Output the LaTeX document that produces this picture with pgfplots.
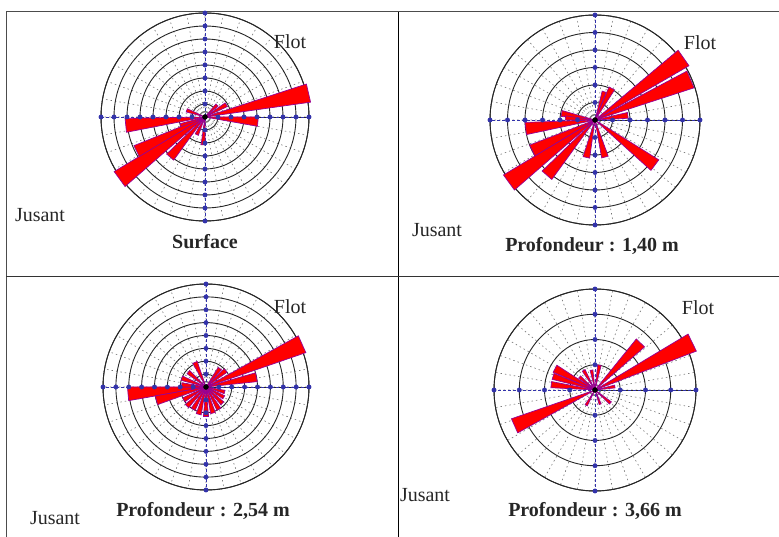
\documentclass[border=0pt]{standalone}
\usepackage{pgfplots}
\pgfplotsset{compat=1.18}
\usepgfplotslibrary{polar}
\usepackage{fontspec}
\setmainfont{Liberation Serif}
\definecolor{wedgered}{RGB}{255,0,0}
\definecolor{wedgeline}{RGB}{150,0,150}
\definecolor{dotblue}{RGB}{50,50,170}
\pgfplotsset{
  rose/.style={
    width=#1, height=#1, scale only axis,
    ymin=0, clip=false,
    xtick={0,10,...,350}, xticklabels={}, yticklabels={},
    major tick length=0pt,
    xmajorgrids, ymajorgrids,
    x grid style={black!55, dash pattern=on 1.5pt off 3pt, line width=0.6pt},
    y grid style={black!85, line width=0.9pt},
    axis line style={black!85, line width=0.9pt},
    anchor=center,
  },
  wedge/.style={fill=wedgered, draw=wedgeline, line width=0.7pt},
  axdots/.style={only marks, mark=*, mark size=2.2pt, dotblue},
  axline/.style={dotblue, dash pattern=on 3pt off 2pt, line width=0.7pt},
}
\begin{document}
\begin{tikzpicture}[x=1pt,y=1pt]
\useasboundingbox (0,0) rectangle (779,537);
% frame
\draw[black!70, line width=1pt] (6,0) -- (6,525) -- (779,525);
\draw[black, line width=0.8pt] (398,0) -- (398,525);
\draw[black!80, line width=0.8pt] (6,261) -- (779,261);

% Panel 1 : Surface
\begin{polaraxis}[rose=208pt, at={(205pt,420pt)}, ymax=8, ytick={1,...,8}]
\addplot[axline] coordinates {(0,8) (180,8)};
\addplot[axline] coordinates {(90,8) (270,8)};
\addplot[axdots] coordinates {(0,1)(0,2)(0,3)(0,4)(0,5)(0,6)(0,7)(0,8)
 (90,1)(90,2)(90,3)(90,4)(90,5)(90,6)(90,7)(90,8)
 (180,1)(180,2)(180,3)(180,4)(180,5)(180,6)(180,7)(180,8)
 (270,1)(270,2)(270,3)(270,4)(270,5)(270,6)(270,7)(270,8)};
\addplot[wedge] coordinates {(0,0) (8,8.2) (18,8.2)} --cycle;
\addplot[wedge] coordinates {(0,0) (-10,4.1) (0,4.1)} --cycle;
\addplot[wedge] coordinates {(0,0) (25,1.9) (35,1.9)} --cycle;
\addplot[wedge] coordinates {(0,0) (40,1.3) (50,1.3)} --cycle;
\addplot[wedge] coordinates {(0,0) (155,1.5) (165,1.5)} --cycle;
\addplot[wedge] coordinates {(0,0) (181,6.15) (191,6.15)} --cycle;
\addplot[wedge] coordinates {(0,0) (195,2.0) (205,2.0)} --cycle;
\addplot[wedge] coordinates {(0,0) (202,5.9) (212,5.9)} --cycle;
\addplot[wedge] coordinates {(0,0) (211,8.15) (221,8.15)} --cycle;
\addplot[wedge] coordinates {(0,0) (224,4.1) (234,4.1)} --cycle;
\addplot[wedge] coordinates {(0,0) (240,1.5) (250,1.5)} --cycle;
\addplot[wedge] coordinates {(0,0) (262,2.15) (270,2.15)} --cycle;
\addplot[only marks, mark=*, mark size=2.5pt, black] coordinates {(0,0)};
\end{polaraxis}

% Panel 2 : 1,40 m
\begin{polaraxis}[rose=210pt, at={(595pt,417pt)}, ymax=6, ytick={1,...,6}]
\addplot[axline] coordinates {(0,6) (180,6)};
\addplot[axline] coordinates {(90,6) (270,6)};
\addplot[axdots] coordinates {(0,1)(0,2)(0,3)(0,4)(0,5)(0,6)
 (90,1)(90,2)(90,3)(90,4)(90,5)(90,6)
 (180,1)(180,2)(180,3)(180,4)(180,5)(180,6)
 (270,1)(270,2)(270,3)(270,4)(270,5)(270,6)};
\addplot[wedge] coordinates {(0,0) (30,6.2) (40,6.2)} --cycle;
\addplot[wedge] coordinates {(0,0) (18,5.95) (28,5.95)} --cycle;
\addplot[wedge] coordinates {(0,0) (3,1.9) (13,1.9)} --cycle;
\addplot[wedge] coordinates {(0,0) (57,2.05) (67,2.05)} --cycle;
\addplot[wedge] coordinates {(0,0) (68,1.7) (76,1.7)} --cycle;
\addplot[wedge] coordinates {(0,0) (164,1.95) (174,1.95)} --cycle;
\addplot[wedge] coordinates {(0,0) (172,1.7) (180,1.7)} --cycle;
\addplot[wedge] coordinates {(0,0) (182,4.0) (192,4.0)} --cycle;
\addplot[wedge] coordinates {(0,0) (201,4.0) (211,4.0)} --cycle;
\addplot[wedge] coordinates {(0,0) (211,6.1) (221,6.1)} --cycle;
\addplot[wedge] coordinates {(0,0) (224,4.2) (234,4.2)} --cycle;
\addplot[wedge] coordinates {(0,0) (252,2.2) (262,2.2)} --cycle;
\addplot[wedge] coordinates {(0,0) (280,2.2) (290,2.2)} --cycle;
\addplot[wedge] coordinates {(0,0) (318,4.3) (328,4.3)} --cycle;
\addplot[only marks, mark=*, mark size=2.5pt, black] coordinates {(0,0)};
\end{polaraxis}

% Panel 3 : 2,54 m
\begin{polaraxis}[rose=206pt, at={(206pt,150pt)}, ymax=8, ytick={1,...,8}]
\addplot[axline] coordinates {(0,8) (180,8)};
\addplot[axline] coordinates {(90,8) (270,8)};
\addplot[axdots] coordinates {(0,1)(0,2)(0,3)(0,4)(0,5)(0,6)(0,7)(0,8)
 (90,1)(90,2)(90,3)(90,4)(90,5)(90,6)(90,7)(90,8)
 (180,1)(180,2)(180,3)(180,4)(180,5)(180,6)(180,7)(180,8)
 (270,1)(270,2)(270,3)(270,4)(270,5)(270,6)(270,7)(270,8)};
\addplot[wedge] coordinates {(0,0) (19,8.2) (29,8.2)} --cycle;
\addplot[wedge] coordinates {(0,0) (6,4.0) (16,4.0)} --cycle;
\addplot[wedge] coordinates {(0,0) (180,6.1) (190,6.1)} --cycle;
\addplot[wedge] coordinates {(0,0) (190,4.0) (200,4.0)} --cycle;
\addplot[wedge] coordinates {(0,0) (109,2.1) (119,2.1)} --cycle;
\addplot[wedge] coordinates {(0,0) (135,1.8) (145,1.8)} --cycle;
\addplot[wedge] coordinates {(0,0) (155,2.0) (165,2.0)} --cycle;
\addplot[wedge] coordinates {(0,0) (170,1.9) (180,1.9)} --cycle;
\addplot[wedge] coordinates {(0,0) (205,2.0) (215,2.0)} --cycle;
\addplot[wedge] coordinates {(0,0) (220,2.1) (230,2.1)} --cycle;
\addplot[wedge] coordinates {(0,0) (235,2.0) (245,2.0)} --cycle;
\addplot[wedge] coordinates {(0,0) (250,2.2) (260,2.2)} --cycle;
\addplot[wedge] coordinates {(0,0) (265,2.3) (275,2.3)} --cycle;
\addplot[wedge] coordinates {(0,0) (280,2.1) (290,2.1)} --cycle;
\addplot[wedge] coordinates {(0,0) (295,2.0) (305,2.0)} --cycle;
\addplot[wedge] coordinates {(0,0) (310,1.8) (320,1.8)} --cycle;
\addplot[wedge] coordinates {(0,0) (325,1.6) (335,1.6)} --cycle;
\addplot[wedge] coordinates {(0,0) (340,1.5) (350,1.5)} --cycle;
\addplot[wedge] coordinates {(0,0) (35,2.0) (45,2.0)} --cycle;
\addplot[wedge] coordinates {(0,0) (48,1.8) (58,1.8)} --cycle;
\addplot[only marks, mark=*, mark size=2.5pt, black] coordinates {(0,0)};
\end{polaraxis}

% Panel 4 : 3,66 m
\begin{polaraxis}[rose=202pt, at={(595pt,147pt)}, ymax=4, ytick={1,...,4}]
\addplot[axline] coordinates {(0,4) (180,4)};
\addplot[axline] coordinates {(90,4) (270,4)};
\addplot[axdots] coordinates {(0,1)(0,2)(0,3)(0,4)
 (90,1)(90,2)(90,3)(90,4)
 (180,1)(180,2)(180,3)(180,4)
 (270,1)(270,2)(270,3)(270,4)};
\addplot[wedge] coordinates {(0,0) (21,4.3) (31,4.3)} --cycle;
\addplot[wedge] coordinates {(0,0) (41,2.6) (51,2.6)} --cycle;
\addplot[wedge] coordinates {(0,0) (199,3.5) (209,3.5)} --cycle;
\addplot[wedge] coordinates {(0,0) (147,1.8) (157,1.8)} --cycle;
\addplot[wedge] coordinates {(0,0) (158,1.75) (166,1.75)} --cycle;
\addplot[wedge] coordinates {(0,0) (169,1.75) (177,1.75)} --cycle;
\addplot[wedge] coordinates {(0,0) (76,1.0) (84,1.0)} --cycle;
\addplot[wedge] coordinates {(0,0) (96,0.8) (104,0.8)} --cycle;
\addplot[wedge] coordinates {(0,0) (116,0.9) (124,0.9)} --cycle;
\addplot[wedge] coordinates {(0,0) (136,0.8) (144,0.8)} --cycle;
\addplot[wedge] coordinates {(0,0) (236,0.7) (244,0.7)} --cycle;
\addplot[wedge] coordinates {(0,0) (286,0.6) (294,0.6)} --cycle;
\addplot[wedge] coordinates {(0,0) (316,0.8) (324,0.8)} --cycle;
\addplot[wedge] coordinates {(0,0) (6,0.8) (14,0.8)} --cycle;
\addplot[only marks, mark=*, mark size=2.5pt, black] coordinates {(0,0)};
\end{polaraxis}

% texts
\begin{scope}[every node/.style={font=\fontsize{20}{22}\selectfont, text=black!85}]
\node at (290,495) {Flot};
\node at (40,322) {Jusant};
\node[font=\fontsize{20}{22}\selectfont\bfseries] at (205,295) {Surface};
\node at (700,494) {Flot};
\node at (437,307) {Jusant};
\node[font=\fontsize{20}{22}\selectfont\bfseries] at (592,291) {Profondeur : 1,40 m};
\node at (290,230) {Flot};
\node at (55,19) {Jusant};
\node[font=\fontsize{20}{22}\selectfont\bfseries] at (203,26) {Profondeur : 2,54 m};
\node at (698,229) {Flot};
\node at (425,42) {Jusant};
\node[font=\fontsize{20}{22}\selectfont\bfseries] at (595,26) {Profondeur : 3,66 m};
\end{scope}
\end{tikzpicture}
\end{document}
